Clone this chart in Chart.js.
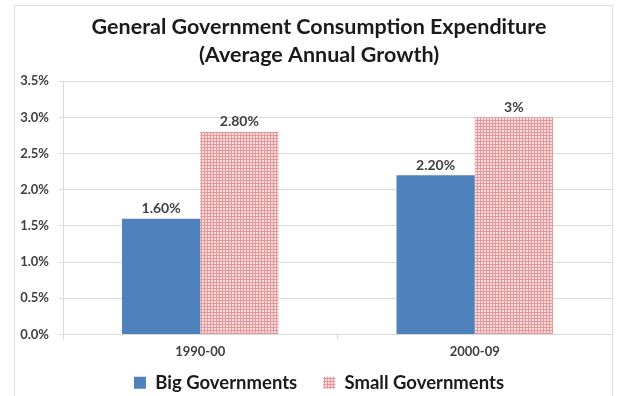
<!DOCTYPE html>
<html>
<head>
<meta charset="utf-8">
<script src="https://cdn.jsdelivr.net/npm/chart.js@4/dist/chart.umd.min.js"></script>
<style>
  html, body { margin: 0; padding: 0; background: #ffffff; }
  #wrap { width: 618px; height: 396px; position: relative; }
</style>
</head>
<body>
<div id="wrap"><canvas id="c" width="618" height="396"></canvas></div>
<script>
// Growth periods and average annual growth (%) per group
const periods = ['1990-00', '2000-09'];
const bigGovernments = [1.6, 2.2];
const smallGovernments = [2.8, 3.0];
const bigLabels = ['1.60%', '2.20%'];
const smallLabels = ['2.80%', '3%'];
const yTicks = [0, 0.5, 1.0, 1.5, 2.0, 2.5, 3.0, 3.5];

const FONT = 'Lato, "Open Sans", "Liberation Sans", sans-serif';
const TEXT = '#404040';

// fine pink check fill for the second series
function checkPattern() {
  const p = document.createElement('canvas');
  p.width = 3; p.height = 3;
  const g = p.getContext('2d');
  g.fillStyle = '#f8dcdd';
  g.fillRect(0, 0, 3, 3);
  g.fillStyle = '#e6999b';
  g.fillRect(0, 0, 3, 1);
  g.fillRect(0, 0, 1, 3);
  return g.createPattern(p, 'repeat');
}

// value text above each bar
const valueLabels = {
  id: 'valueLabels',
  afterDatasetsDraw(chart) {
    const ctx = chart.ctx;
    ctx.save();
    ctx.font = 'bold 14px ' + FONT;
    ctx.fillStyle = TEXT;
    ctx.textAlign = 'center';
    ctx.textBaseline = 'bottom';
    chart.data.datasets.forEach((ds, i) => {
      chart.getDatasetMeta(i).data.forEach((bar, j) => {
        ctx.fillText(ds.valueText[j], bar.x, bar.y - 3);
      });
    });
    ctx.restore();
  }
};

// thin frame around the whole chart
const frame = {
  id: 'frame',
  beforeDraw(chart) {
    const ctx = chart.ctx;
    ctx.save();
    ctx.strokeStyle = '#e0e0e0';
    ctx.lineWidth = 1;
    ctx.strokeRect(14.5, 5.5, chart.width - 20, chart.height + 10);
    ctx.restore();
  }
};

// fixed scale size; tick labels may spill outside the scale box
function fixSize(prop, size) {
  return function (scale) {
    scale[prop] = size;
    scale._computeLabelArea = () => null;
  };
}

new Chart(document.getElementById('c'), {
  type: 'bar',
  data: {
    labels: periods,
    datasets: [
      {
        label: 'Big Governments',
        data: bigGovernments,
        valueText: bigLabels,
        backgroundColor: '#4f81bd',
        borderWidth: 0
      },
      {
        label: 'Small Governments',
        data: smallGovernments,
        valueText: smallLabels,
        backgroundColor: checkPattern(),
        borderWidth: 0
      }
    ]
  },
  options: {
    responsive: false,
    animation: false,
    layout: { padding: { left: 26, right: 6, top: 8, bottom: -6 } },
    datasets: {
      bar: { categoryPercentage: 0.57, barPercentage: 1.0 }
    },
    scales: {
      x: {
        grid: { display: true, drawOnChartArea: false, drawTicks: true, tickLength: 5, color: '#d9d9d9', offset: true },
        border: { color: '#d9d9d9' },
        ticks: { color: TEXT, font: { family: FONT, size: 13, weight: 'bold' }, padding: 5 },
        afterFit: fixSize('height', 13)
      },
      y: {
        min: 0,
        max: 3.5,
        afterBuildTicks(scale) { scale.ticks = yTicks.map(v => ({ value: v })); },
        grid: { color: '#d9d9d9', tickLength: 4 },
        border: { color: '#d9d9d9' },
        ticks: {
          color: TEXT,
          font: { family: FONT, size: 13, weight: 'bold' },
          padding: 10,
          callback: v => v.toFixed(1) + '%'
        },
        afterFit: fixSize('width', 37)
      }
    },
    plugins: {
      title: {
        display: true,
        text: ['General Government Consumption Expenditure', '(Average Annual Growth)'],
        color: '#1a1a1a',
        font: { family: FONT, size: 21.5, weight: 'bold', lineHeight: 1.26 },
        padding: { top: 6, bottom: 13 }
      },
      legend: {
        position: 'bottom',
        labels: {
          color: '#1a1a1a',
          font: { family: FONT, size: 18.5, weight: 'bold' },
          boxWidth: 12,
          boxHeight: 12,
          padding: 26
        }
      },
      tooltip: { enabled: false }
    }
  },
  plugins: [frame, valueLabels]
});
</script>
</body>
</html>
